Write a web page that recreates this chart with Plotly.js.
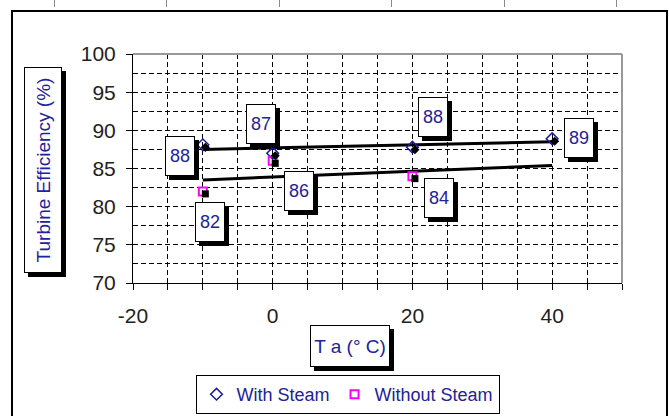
<!DOCTYPE html>
<html>
<head>
<meta charset="utf-8">
<script src="https://cdn.plot.ly/plotly-3.0.1.min.js"></script>
<style>
  html, body { margin: 0; padding: 0; background: #fff; overflow: hidden; }
  #wrap { position: relative; width: 669px; height: 416px; }
  #chart { position: absolute; left: 0; top: 0; width: 669px; height: 416px; }
  #frame { position: absolute; left: 11px; top: 10px; width: 653px; height: 420px; border: 2px solid #000; pointer-events: none; }
  .tk { position: absolute; top: 0; width: 1px; height: 7px; background: #888; }
</style>
</head>
<body>
<div id="wrap">
  <div id="chart"></div>
  <div id="frame"></div>
  <div class="tk" style="left:54px"></div>
  <div class="tk" style="left:166px"></div>
  <div class="tk" style="left:279px"></div>
  <div class="tk" style="left:391px"></div>
  <div class="tk" style="left:504px"></div>
  <div class="tk" style="left:616px"></div>
</div>
<script>
// ---- data ----
const withX = [-10, 0, 20, 40];
const withSteam = [88.1, 87.0, 87.8, 88.9];
const withLabels = ['88', '87', '88', '89'];
const withoutX = [-10, 0, 20];
const withoutSteam = [82.0, 86.0, 84.0];
const withoutLabels = ['82', '86', '84'];
const trendX = [-10, 40];
const trendWith = [87.5, 88.5];
const trendWithout = [83.5, 85.4];
const xTickVals = [-20, -15, -10, -5, 0, 5, 10, 15, 20, 25, 30, 35, 40, 45, 50];
const xTickText = ['-20', '', '', '', '0', '', '', '', '20', '', '', '', '40', '', ''];
const yTickVals = [70, 75, 80, 85, 90, 95, 100];
const yTickText = ['70', '75', '80', '85', '90', '95', '100'];
const seriesNames = ['With Steam', 'Without Steam'];
const xTitle = 'T a (° C)';
const yTitle = 'Turbine Efficiency (%)';

// ---- style ----
const FONT = 'Liberation Sans, Arial, sans-serif';
const BLUE = '#22229a';
const xRange = [-20, 50], yRange = [70, 100];
const M = { l: 133, r: 47, t: 54, b: 133, autoexpand: false };
const plotW = 669 - M.l - M.r, plotH = 416 - M.t - M.b;
const sh = 2.5; // marker shadow offset px
const dx = sh * (xRange[1] - xRange[0]) / plotW;
const dy = sh * (yRange[1] - yRange[0]) / plotH;
const withShift = [[-23, -11], [-12, 29], [21, 30], [27, 1]];
const withoutShift = [[7, -31], [26, -30], [27, -22]];
const GRID = '5px,3px';
const px = (p) => (p - M.l) / plotW;
const py = (p) => (416 - M.b - p) / plotH;

const traces = [
  // shadows
  { x: withX, y: withSteam, xaxis: 'x2', yaxis: 'y2', mode: 'markers', showlegend: false, hoverinfo: 'skip',
    marker: { symbol: 'diamond', size: 7, color: '#000' } },
  { x: withoutX, y: withoutSteam, xaxis: 'x2', yaxis: 'y2', mode: 'markers', showlegend: false, hoverinfo: 'skip',
    marker: { symbol: 'square', size: 7, color: '#000' } },
  // trend lines
  { x: trendX, y: trendWith, mode: 'lines', showlegend: false, line: { color: '#000', width: 3 } },
  { x: trendX, y: trendWithout, mode: 'lines', showlegend: false, line: { color: '#000', width: 3 } },
  // series
  { x: withX, y: withSteam, name: seriesNames[0], mode: 'markers',
    marker: { symbol: 'diamond-open', size: 9, color: '#1a1aa6', line: { width: 1.5 } } },
  { x: withoutX, y: withoutSteam, name: seriesNames[1], mode: 'markers',
    marker: { symbol: 'square-open', size: 8, color: '#ff00ff', line: { width: 2 } } }
];

const annotations = [];
function addLabel(x, y, txt, s) {
  const common = { x: x, y: y, xref: 'x', yref: 'y', showarrow: false,
    width: 26, height: 36, borderpad: 1, borderwidth: 1 };
  annotations.push(Object.assign({}, common, { text: ' ', xshift: s[0] + 4, yshift: s[1] - 4,
    bgcolor: '#000', bordercolor: '#000', font: { family: FONT, size: 18, color: '#000' } }));
  annotations.push(Object.assign({}, common, { text: txt, xshift: s[0], yshift: s[1],
    bgcolor: '#fff', bordercolor: '#000', font: { family: FONT, size: 18, color: BLUE } }));
}
withX.forEach((x, i) => addLabel(x, withSteam[i], withLabels[i], withShift[i]));
withoutX.forEach((x, i) => addLabel(x, withoutSteam[i], withoutLabels[i], withoutShift[i]));

function addTitle(txt, cx, cy, w, h, angle) {
  const base = { xref: 'paper', yref: 'paper', x: px(cx), y: py(cy),
    xanchor: 'center', yanchor: 'middle', showarrow: false, textangle: angle,
    width: w, height: h, borderpad: 1, borderwidth: 1 };
  annotations.push(Object.assign({}, base, { text: ' ', xshift: 4, yshift: -4, bgcolor: '#000', bordercolor: '#000',
    font: { family: FONT, size: 19, color: '#000' } }));
  annotations.push(Object.assign({}, base, { text: txt, bgcolor: '#fff', bordercolor: '#000',
    font: { family: FONT, size: 19, color: BLUE } }));
}
addTitle(yTitle, 43, 170, 202, 34, -90);
addTitle(xTitle, 350, 346, 76, 38, 0);

const layout = {
  width: 669, height: 416,
  margin: M,
  paper_bgcolor: '#fff', plot_bgcolor: '#fff',
  font: { family: FONT, size: 18, color: '#222' },
  showlegend: true,
  legend: { orientation: 'h', x: px(347.5), xanchor: 'center', y: py(375), yanchor: 'top',
    bordercolor: '#000', borderwidth: 1, bgcolor: '#fff', font: { family: FONT, size: 18, color: BLUE },
    itemwidth: 30, tracegroupgap: 0 },
  xaxis: { range: xRange, tickmode: 'array', tickvals: xTickVals, ticktext: xTickText,
    ticks: 'outside', ticklen: 6, tickcolor: '#000', tickwidth: 1,
    showline: true, linecolor: '#000', linewidth: 1, zeroline: false, automargin: false,
    showgrid: true, gridcolor: '#000', gridwidth: 1, griddash: GRID, ticklabelstandoff: 8,
    tickfont: { family: FONT, size: 21, color: '#222' }, fixedrange: true },
  yaxis: { range: yRange, tickmode: 'array', tickvals: yTickVals, ticktext: yTickText,
    ticks: 'outside', ticklen: 6, tickcolor: '#000', tickwidth: 1,
    showline: true, linecolor: '#000', linewidth: 1, zeroline: false, automargin: false,
    showgrid: true, gridcolor: '#000', gridwidth: 1, griddash: GRID, ticklabelstandoff: 6,
    minor: { dtick: 2.5, tick0: 70, showgrid: true, gridcolor: '#000', gridwidth: 1, griddash: GRID, ticks: '' },
    tickfont: { family: FONT, size: 21, color: '#222' }, fixedrange: true },
  xaxis2: { overlaying: 'x', range: [xRange[0] - dx, xRange[1] - dx], visible: false, fixedrange: true },
  yaxis2: { overlaying: 'y', range: [yRange[0] + dy, yRange[1] + dy], visible: false, fixedrange: true },
  shapes: [
    { type: 'line', xref: 'paper', yref: 'paper', x0: 0, x1: 1, y0: 1, y1: 1, line: { color: '#999', width: 2 }, layer: 'above' },
    { type: 'line', xref: 'paper', yref: 'paper', x0: 1, x1: 1, y0: 0, y1: 1, line: { color: '#999', width: 2 }, layer: 'above' }
  ],
  annotations: annotations
};

Plotly.newPlot('chart', traces, layout, { staticPlot: true, displayModeBar: false });
</script>
</body>
</html>
